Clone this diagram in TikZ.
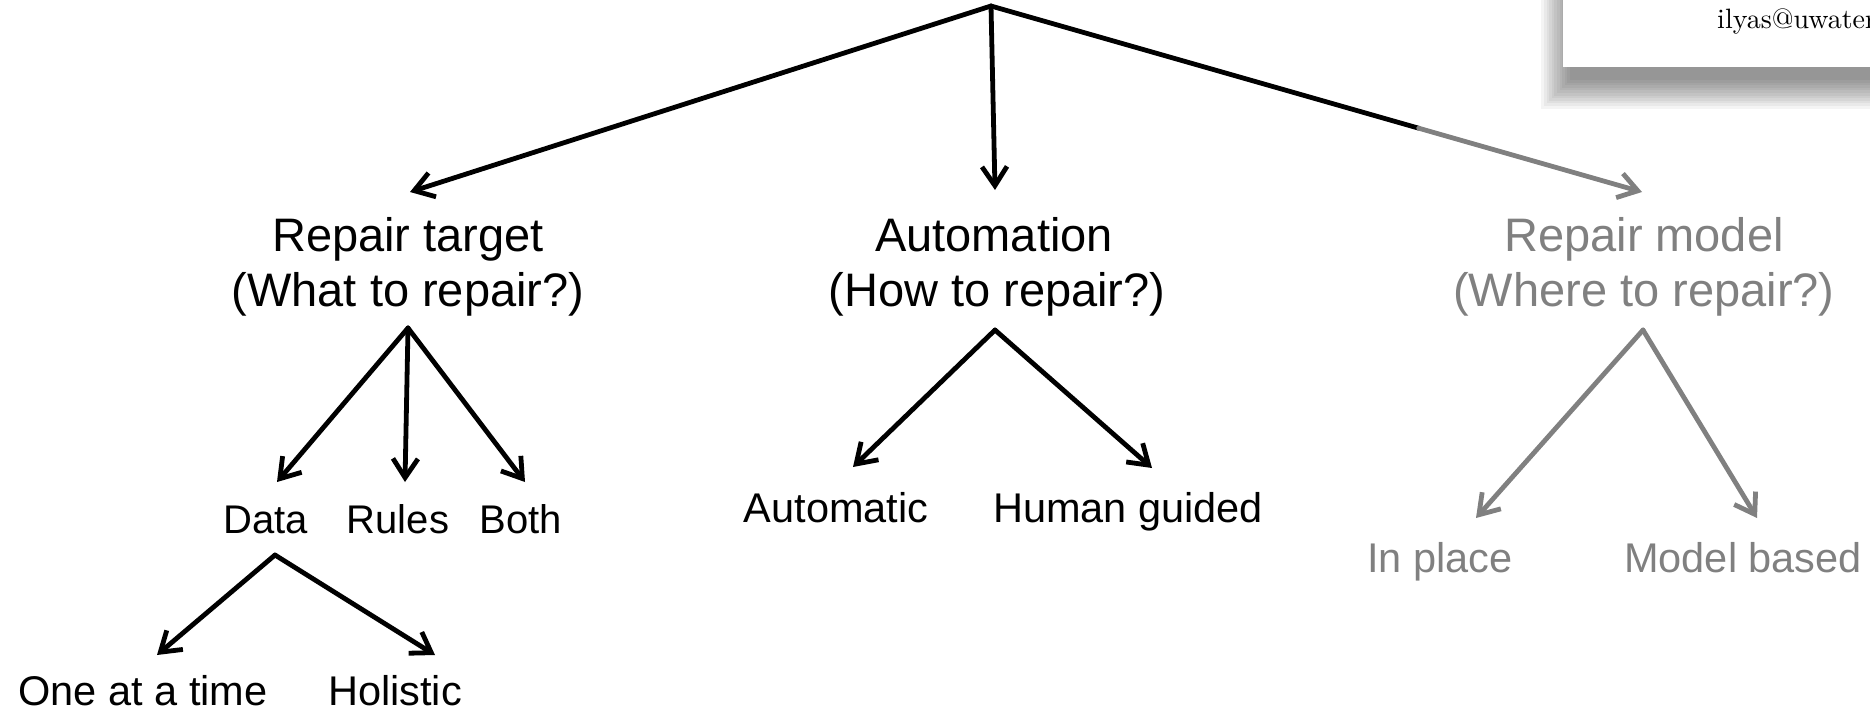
\documentclass[tikz,border=0pt]{standalone}
\usepackage{fontspec}
\setmainfont{Liberation Sans}
\newfontfamily\cmfont{lmroman10-regular}[Extension=.otf]
\usetikzlibrary{arrows.meta,calc}
\definecolor{dim}{HTML}{808080}
\tikzset{
  arr/.style={line width=4.8pt, line cap=round, line join=round,
    -{Straight Barb[length=19pt,width=25pt]}},
  seg/.style={line width=4.8pt, line cap=round},
  lvlone/.style={anchor=base, inner sep=0pt, font=\fontsize{47}{56}\selectfont},
  lvltwo/.style={anchor=base, inner sep=0pt, font=\fontsize{41.5}{50}\selectfont},
  lvlsmall/.style={anchor=base, inner sep=0pt, font=\fontsize{40}{48}\selectfont},
  faded/.style={dim}
}
\begin{document}
\begin{tikzpicture}[x=1pt,y=-1pt]
\useasboundingbox (0,0) rectangle (1870,713);

% author card in the corner, with a soft drop shadow
\begin{scope}
  \clip (0,0) rectangle (1870,713);
  \foreach \i in {0,...,11}
    \fill[black, opacity=0.042] ({1570-2.6*\i},{-20+1.5*\i}) rectangle (1900,{80+2.6*\i});
  \fill[white] (1563,-10) rectangle (1900,67);
  \begin{scope}
    \clip (1563,0) rectangle (1870,67);
    \node[anchor=base west, inner sep=0pt, font=\cmfont\fontsize{28}{33}\selectfont]
      (email) at (1717,28) {ilyas@uwaterloo.ca};
  \end{scope}
\end{scope}

% root of the taxonomy
\coordinate (root) at (991,6);

% first level
\node[lvlone] (rt)  at (408,251) {Repair target};
\node[lvlone] (rtq) at (408,306) {(What to repair?)};
\node[lvlone] (au)  at (994,251) {Automation};
\node[lvlone] (auq) at (997,306) {(How to repair?)};
\node[lvlone, faded] (rm)  at (1644,251) {Repair model};
\node[lvlone, faded] (rmq) at (1644,306) {(Where to repair?)};

\coordinate (rt-top) at (410,192);
\coordinate (au-top) at (995,190);
\coordinate (rm-top) at (1642,192);
\coordinate (rtq-bot) at (408,328);
\coordinate (auq-bot) at (995,330);
\coordinate (rmq-bot) at (1643,330);

\draw[arr] (root) -- (rt-top);
\draw[arr] (root) -- (au-top);
\coordinate (fade) at ($(root)!0.657!(rm-top)$);
\draw[seg] (root) -- (fade);
\draw[arr, dim] (fade) -- (rm-top);

% second level: repair target
\node[lvlsmall] (data)  at (266,533) {Data};
\node[lvlsmall] (rules) at (398,533) {Rules};
\node[lvlsmall] (both)  at (521,533) {Both};
\coordinate (data-top)  at (277,482);
\coordinate (rules-top) at (405,482);
\coordinate (both-top)  at (525,482);
\draw[arr] (rtq-bot) -- (data-top);
\draw[arr] (rtq-bot) -- (rules-top);
\draw[arr] (rtq-bot) -- (both-top);

% second level: automation
\node[lvltwo] (auto)  at (836,522) {Automatic};
\node[lvltwo] (human) at (1128,522) {Human guided};
\coordinate (auto-top)  at (853,467);
\coordinate (human-top) at (1152,468);
\draw[arr] (auq-bot) -- (auto-top);
\draw[arr] (auq-bot) -- (human-top);

% second level: repair model
\node[lvltwo, faded] (inplace) at (1440,572) {In place};
\node[lvltwo, faded] (model)   at (1743,572) {Model based};
\coordinate (inplace-top) at (1476,518);
\coordinate (model-top)   at (1757,518);
\draw[arr, dim] (rmq-bot) -- (inplace-top);
\draw[arr, dim] (rmq-bot) -- (model-top);

% third level: data repair
\node[lvltwo] (one)  at (143,705) {One at a time};
\node[lvltwo] (holi) at (395,705) {Holistic};
\coordinate (data-bot) at (275,555);
\coordinate (one-top)  at (157,655);
\coordinate (holi-top) at (435,655);
\draw[arr] (data-bot) -- (one-top);
\draw[arr] (data-bot) -- (holi-top);
\end{tikzpicture}
\end{document}
